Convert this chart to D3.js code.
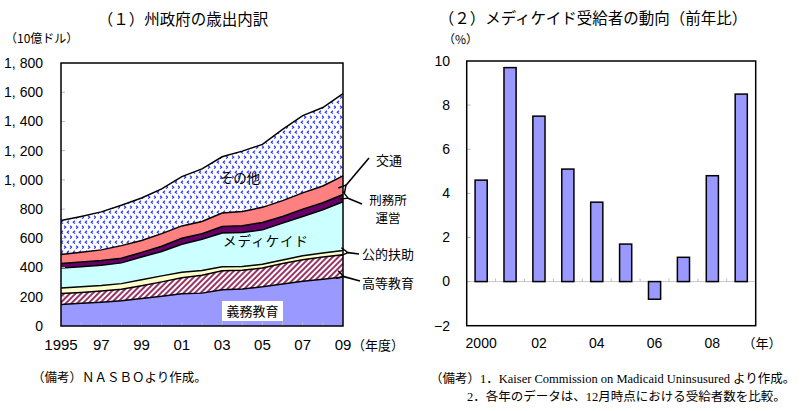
<!DOCTYPE html>
<html><head><meta charset="utf-8">
<script src="https://cdn.jsdelivr.net/npm/d3@7"></script>
<style>
html,body{margin:0;padding:0;background:#fff;}
svg{display:block;}
text{font-family:"Liberation Sans","Noto Sans CJK JP",sans-serif;fill:#000;}
.jp{font-family:"Noto Sans CJK JP","Liberation Sans",sans-serif;}
.serif{font-family:"Liberation Serif","Noto Sans CJK JP",serif;}
</style>
</head><body>
<svg id="c" width="806" height="411"></svg>
<script>
// ---- Data: (1) state expenditure breakdown (billion USD) ----
const years = [1995,1996,1997,1998,1999,2000,2001,2002,2003,2004,2005,2006,2007,2008,2009];
const compulsoryEdu = [148,155,162,172,188,204,220,225,248,254,268,287,306,320,335];
const higherEdu     = [74,75,78,80,88,98,110,122,130,128,129,141,148,153,152];
const publicAssist  = [38,38,37,38,40,41,38,33,27,26,25,24,27,26,30];
const medicaid      = [137,138,139,142,156,167,192,214,232,232,236,252,269,297,333];
const corrections   = [30,32,32,32,32,36,40,38,44,46,51,46,50,48,50];
const transport     = [62,67,73,86,81,86,85,83,92,98,103,108,111,114,128];
const others        = [233,245,260,276,291,306,337,360,385,413,431,488,529,537,562];
const leftYTicks = [0,200,400,600,800,1000,1200,1400,1600,1800];
const leftYLabels = ["0","200","400","600","800","1, 000","1, 200","1, 400","1, 600","1, 800"];
const leftXTicks = [1995,1997,1999,2001,2003,2005,2007,2009];
const leftXLabels = ["1995","97","99","01","03","05","07","09"];

// ---- Data: (2) Medicaid enrollment growth (% y/y) ----
const barYears = [2000,2001,2002,2003,2004,2005,2006,2007,2008,2009];
const enrollGrowth = [4.6,9.7,7.5,5.1,3.6,1.7,-0.8,1.1,4.8,8.5];
const rightYTicks = [-2,0,2,4,6,8,10];
const rightXLabels = ["2000","","02","","04","","06","","08",""];

const svg = d3.select("#c");
const defs = svg.append("defs");

// patterns
const pd = defs.append("pattern").attr("id","dots").attr("patternUnits","userSpaceOnUse")
  .attr("width",12).attr("height",10);
pd.append("rect").attr("width",12).attr("height",10).attr("fill","#fff");
const chev = "M3,0.8 L1.2,2.2 L3,3.6 M9,0.8 L7.2,2.2 L9,3.6 M4,5.8 L5.8,7.2 L4,8.6 M10,5.8 L11.8,7.2 L10,8.6";
pd.append("path").attr("d",chev).attr("fill","none").attr("stroke","#2233ff").attr("stroke-width",1.1);

const ph = defs.append("pattern").attr("id","hatch").attr("patternUnits","userSpaceOnUse")
  .attr("width",4).attr("height",4).attr("patternTransform","rotate(45)");
ph.append("rect").attr("width",4).attr("height",4).attr("fill","#fff");
ph.append("rect").attr("width",2).attr("height",4).attr("fill","#993366");

// arrow marker
defs.append("marker").attr("id","arr").attr("viewBox","0 0 10 10").attr("refX",1).attr("refY",5)
  .attr("markerWidth",9).attr("markerHeight",9).attr("markerUnits","userSpaceOnUse").attr("orient","auto-start-reverse")
  .append("path").attr("d","M9,0.5 L1,5 L9,9.5").attr("fill","none").attr("stroke","#000").attr("stroke-width",1.6);

// ===== Left chart =====
const L = {x0:61,x1:343,y0:63,y1:326};
const x = d3.scaleLinear().domain([1995,2009]).range([L.x0,L.x1]);
const y = d3.scaleLinear().domain([0,1800]).range([L.y1,L.y0]);

const keys = ["compulsoryEdu","higherEdu","publicAssist","medicaid","corrections","transport","others"];
const src = {compulsoryEdu,higherEdu,publicAssist,medicaid,corrections,transport,others};
const fills = {compulsoryEdu:"#9999ff",higherEdu:"url(#hatch)",publicAssist:"#ffffcc",medicaid:"#ccffff",
  corrections:"#660066",transport:"#ff8080",others:"url(#dots)"};
const rows = years.map((yr,i)=>{const r={year:yr}; keys.forEach(k=>r[k]=src[k][i]); return r;});
const series = d3.stack().keys(keys)(rows);

const area = d3.area().x(d=>x(d.data.year)).y0(d=>y(d[0])).y1(d=>y(d[1]));
const topLine = d3.line().x(d=>x(d.data.year)).y(d=>y(d[1]));
const gL = svg.append("g");
gL.selectAll("path.a").data(series).join("path").attr("class","a")
  .attr("d",area).attr("fill",s=>fills[s.key]);
gL.selectAll("path.l").data(series).join("path").attr("class","l")
  .attr("d",topLine).attr("fill","none").attr("stroke","#000").attr("stroke-width",1.5);

// ticks (inside, gray)
gL.selectAll("line.yt").data(leftYTicks.slice(1,-1)).join("line").attr("class","yt")
  .attr("x1",L.x0).attr("x2",L.x0+4).attr("y1",d=>y(d)).attr("y2",d=>y(d)).attr("stroke","#bbb");
gL.selectAll("line.xt").data(years.slice(1,-1)).join("line").attr("class","xt")
  .attr("x1",d=>x(d)).attr("x2",d=>x(d)).attr("y1",L.y1).attr("y2",L.y1-4).attr("stroke","#bbb");

gL.append("rect").attr("x",L.x0).attr("y",L.y0).attr("width",L.x1-L.x0).attr("height",L.y1-L.y0)
  .attr("fill","none").attr("stroke","#000").attr("stroke-width",1.5);

gL.selectAll("text.yl").data(leftYTicks).join("text").attr("class","yl")
  .attr("x",43).attr("y",d=>y(d)).attr("dy","0.35em").attr("text-anchor","end")
  .attr("font-size",14).text((d,i)=>leftYLabels[i]);
gL.selectAll("text.xl").data(leftXTicks).join("text").attr("class","xl")
  .attr("x",d=>x(d)).attr("y",345).attr("dy","0.35em").attr("text-anchor","middle")
  .attr("font-size",15).text((d,i)=>leftXLabels[i]);
gL.append("text").attr("class","jp").attr("x",352).attr("y",345).attr("dy","0.35em").attr("font-size",13).text("（年度）");

gL.append("text").attr("class","jp").attr("x",183).attr("y",20).attr("dy","0.35em").attr("text-anchor","middle")
  .attr("font-size",15.5).text("（１）州政府の歳出内訳");
gL.append("text").attr("class","jp").attr("x",5).attr("y",39).attr("dy","0.35em").attr("font-size",12).text("（10億ドル）");

// in-chart labels
gL.append("text").attr("class","jp").attr("x",240).attr("y",178).attr("dy","0.35em").attr("text-anchor","middle").attr("font-size",13.5).text("その他");
gL.append("text").attr("class","jp").attr("x",266).attr("y",241).attr("dy","0.35em").attr("text-anchor","middle").attr("font-size",13.5)
  .attr("letter-spacing",1).text("メディケイド");
gL.append("rect").attr("x",222).attr("y",301).attr("width",61).attr("height",20).attr("fill","#fff");
gL.append("text").attr("class","jp").attr("x",252.5).attr("y",311).attr("dy","0.35em").attr("text-anchor","middle").attr("font-size",13).text("義務教育");

// annotations on the right
const last = series.map(s=>s[s.length-1]);
const mid = k => {const s=last[keys.indexOf(k)]; return (s[0]+s[1])/2;};
const ann = gL.append("g");
function arrow(x1,y1,x2,y2){
  ann.append("line").attr("x1",x1).attr("y1",y1).attr("x2",x2).attr("y2",y2)
    .attr("stroke","#000").attr("stroke-width",1.6).attr("marker-end","url(#arr)");
}
arrow(369,158,x(2009)+3,y(mid("transport")));
arrow(362,204,x(2009)+5,y(mid("corrections")));
arrow(359,254,x(2009)+5,y(mid("publicAssist")));
arrow(360,281,x(2009)+1,y(mid("higherEdu"))+ (y(mid("compulsoryEdu"))-y(mid("higherEdu")))*0.3);
const annText = (t,xx,yy,fs)=>ann.append("text").attr("class","jp").attr("x",xx).attr("y",yy).attr("dy","0.35em")
  .attr("text-anchor","middle").attr("font-size",fs||13).text(t);
annText("交通",389,160);
annText("刑務所",388,201,12.5);
annText("運営",388,219,12.5);
annText("公的扶助",388,254);
annText("高等教育",388,283);

gL.append("text").attr("class","serif").attr("x",32).attr("y",378).attr("dy","0.35em").attr("font-size",12.5)
  .text("（備考）ＮＡＳＢＯより作成。");

// ===== Right chart =====
const R = {x0:466.7,x1:755.7,y0:61,y1:325.7};
const xb = d3.scaleBand().domain(barYears).range([R.x0,R.x1]).paddingInner(0.58).paddingOuter(0.29);
const y2 = d3.scaleLinear().domain([-2,10]).range([R.y1,R.y0]);
const gR = svg.append("g");

gR.append("line").attr("x1",R.x0).attr("x2",R.x1).attr("y1",y2(0)).attr("y2",y2(0)).attr("stroke","#c8c8c8").attr("stroke-width",1);
const step = xb.step();
gR.selectAll("line.xt").data(barYears.slice(1)).join("line").attr("class","xt")
  .attr("x1",d=>xb(d)-xb.paddingInner()*step/2).attr("x2",d=>xb(d)-xb.paddingInner()*step/2)
  .attr("y1",y2(0)).attr("y2",y2(0)-3).attr("stroke","#bbb");
gR.selectAll("line.yt").data(rightYTicks.slice(1,-1)).join("line").attr("class","yt")
  .attr("x1",R.x0).attr("x2",R.x0+4).attr("y1",d=>y2(d)).attr("y2",d=>y2(d)).attr("stroke","#bbb");

gR.selectAll("rect.b").data(barYears).join("rect").attr("class","b")
  .attr("x",d=>xb(d)).attr("width",xb.bandwidth())
  .attr("y",(d,i)=>y2(Math.max(0,enrollGrowth[i])))
  .attr("height",(d,i)=>Math.abs(y2(enrollGrowth[i])-y2(0)))
  .attr("fill","#9999ff").attr("stroke","#000").attr("stroke-width",1.5);

gR.append("rect").attr("x",R.x0).attr("y",R.y0).attr("width",R.x1-R.x0).attr("height",R.y1-R.y0)
  .attr("fill","none").attr("stroke","#000").attr("stroke-width",1.5);

gR.selectAll("text.yl").data(rightYTicks).join("text").attr("class","yl")
  .attr("x",450).attr("y",d=>y2(d)).attr("dy","0.35em").attr("text-anchor","end")
  .attr("font-size",14).text(d=>d<0?"−"+Math.abs(d):d);
gR.selectAll("text.xl").data(barYears).join("text").attr("class","xl")
  .attr("x",d=>xb(d)+xb.bandwidth()/2).attr("y",343).attr("dy","0.35em").attr("text-anchor","middle")
  .attr("font-size",14).text((d,i)=>rightXLabels[i]);
gR.append("text").attr("class","jp").attr("x",762).attr("y",343).attr("dy","0.35em").attr("text-anchor","middle").attr("font-size",13).text("（年）");

gR.append("text").attr("class","jp").attr("x",593).attr("y",19).attr("dy","0.35em").attr("text-anchor","middle")
  .attr("font-size",15.5).text("（２）メディケイド受給者の動向（前年比）");
gR.append("text").attr("class","jp").attr("x",443).attr("y",40).attr("dy","0.35em").attr("font-size",12).text("（%）");

gR.append("text").attr("class","serif").attr("x",430).attr("y",379).attr("dy","0.35em").attr("font-size",12.5)
  .text("（備考）1．Kaiser Commission on Madicaid Uninsusured より作成。");
gR.append("text").attr("class","serif").attr("x",467).attr("y",397).attr("dy","0.35em").attr("font-size",12.5)
  .text("2．各年のデータは、12月時点における受給者数を比較。");
</script>
</body></html>
